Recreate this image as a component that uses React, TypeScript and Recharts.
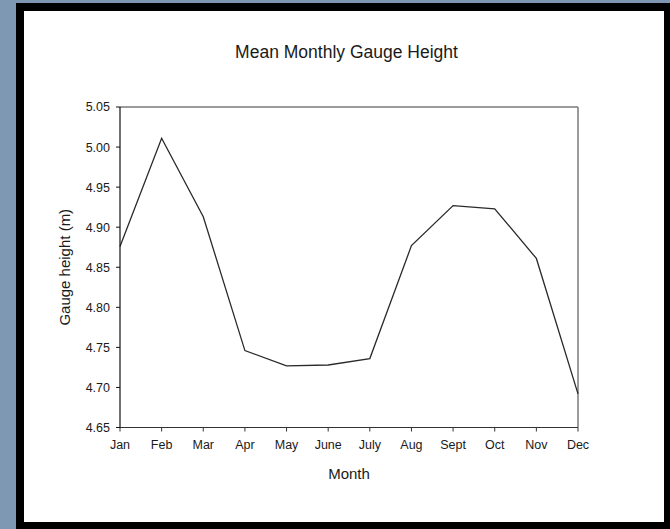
import React from "react";
import { LineChart, Line, XAxis, YAxis, ReferenceLine, Label } from "recharts";

// Monthly mean gauge height (m)
const months = ["Jan", "Feb", "Mar", "Apr", "May", "June", "July", "Aug", "Sept", "Oct", "Nov", "Dec"];
const gaugeHeight = [4.876, 5.011, 4.913, 4.746, 4.727, 4.728, 4.736, 4.877, 4.927, 4.923, 4.861, 4.692];
const yTicks = [4.65, 4.7, 4.75, 4.8, 4.85, 4.9, 4.95, 5.0, 5.05];

const data = months.map((m, i) => ({ month: m, height: gaugeHeight[i] }));

const FONT = "'Liberation Sans', Arial, Helvetica, sans-serif";
const INK = "#1a1a1a";

const YTitle = (props: any) => {
  const vb = props.viewBox || {};
  const x = (vb.x ?? 0) + 46;
  const y = (vb.y ?? 0) + (vb.height ?? 0) / 2;
  return (
    <text
      x={x}
      y={y}
      transform={`rotate(-90, ${x}, ${y})`}
      textAnchor="middle"
      fontFamily={FONT}
      fontSize={15}
      fill={INK}
    >
      Gauge height (m)
    </text>
  );
};

export default function App() {
  return (
    <div
      style={{
        position: "absolute",
        left: 0,
        top: 0,
        width: 670,
        height: 529,
        background: "#7e98b4",
        overflow: "hidden",
      }}
    >
      <div style={{ position: "absolute", left: 16, top: 3, width: 654, height: 526, background: "#000" }} />
      <div
        style={{
          position: "absolute",
          left: 24,
          top: 11,
          width: 640,
          height: 511,
          background: "#fff",
          fontFamily: FONT,
        }}
      >
        <div
          style={{
            position: "absolute",
            left: 0,
            top: 31,
            width: 645,
            textAlign: "center",
            fontSize: 17.5,
            lineHeight: "20px",
            color: INK,
          }}
        >
          Mean Monthly Gauge Height
        </div>
        <div style={{ position: "absolute", left: 0, top: 0 }}>
          <LineChart width={640} height={511} data={data} margin={{ top: 96, right: 86, left: 0, bottom: 0 }}>
            <XAxis
              dataKey="month"
              height={94.5}
              tickSize={4}
              tickMargin={9}
              interval={0}
              axisLine={{ stroke: "#333", strokeWidth: 1.2 }}
              tickLine={{ stroke: "#333" }}
              tick={{ fill: INK, fontSize: 12.5, fontFamily: FONT }}
            >
              <Label
                value="Month"
                position="insideBottom"
                offset={43}
                style={{ fontSize: 15, fontFamily: FONT, fill: INK }}
              />
            </XAxis>
            <YAxis
              width={96}
              type="number"
              domain={[4.65, 5.05]}
              ticks={yTicks}
              interval={0}
              allowDataOverflow
              tickFormatter={(v: number) => v.toFixed(2)}
              tickSize={4}
              tickMargin={6}
              axisLine={{ stroke: "#111", strokeWidth: 1.2 }}
              tickLine={{ stroke: "#111" }}
              tick={{ fill: INK, fontSize: 12.5, fontFamily: FONT }}
            >
              <Label content={YTitle} />
            </YAxis>
            <ReferenceLine y={5.05} stroke="#7a7a7a" strokeWidth={1.5} />
            <ReferenceLine x="Dec" stroke="#7a7a7a" strokeWidth={1.5} />
            <Line
              type="linear"
              dataKey="height"
              stroke="#2a2a2a"
              strokeWidth={1.3}
              dot={false}
              activeDot={false}
              isAnimationActive={false}
            />
          </LineChart>
        </div>
      </div>
    </div>
  );
}
